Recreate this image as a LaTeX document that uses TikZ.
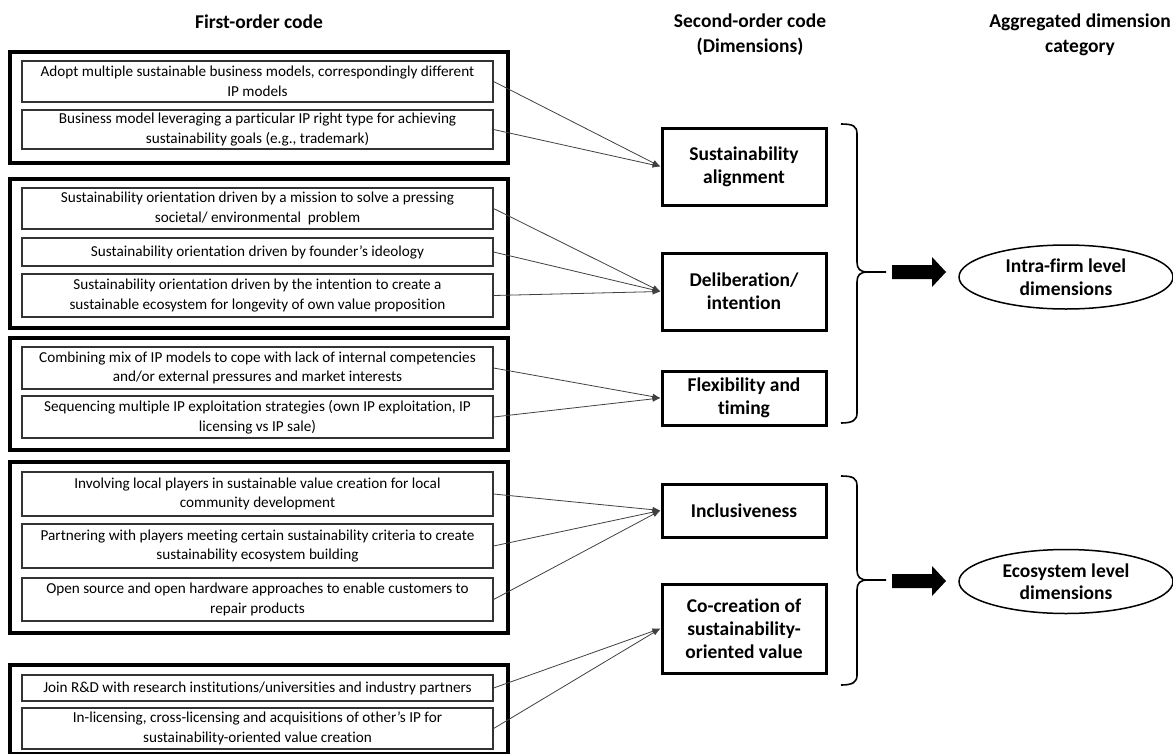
\documentclass[tikz,border=0pt]{standalone}
\usepackage{fontspec}
\setmainfont{Carlito}[Ligatures=NoCommon]
\usetikzlibrary{arrows.meta,shapes.geometric}
\begin{document}
\begin{tikzpicture}[x=1pt,y=-1pt,
  code/.style={draw=black!80, line width=1.2pt, minimum width=471pt, inner sep=0pt,
    align=center, font=\fontsize{15.2}{19.5}\selectfont},
  group/.style={draw=black, line width=3.5pt},
  dim/.style={draw=black, line width=3pt, minimum width=164pt, inner sep=0pt,
    align=center, font=\bfseries\fontsize{19.5}{23}\selectfont},
  head/.style={align=center, font=\bfseries\fontsize{19.5}{25}\selectfont},
  agg/.style={ellipse, draw=black, line width=1.5pt, minimum width=214pt,
    minimum height=64pt, inner sep=0pt, align=center,
    font=\bfseries\fontsize{19.5}{22.5}\selectfont},
  link/.style={draw=black!75, line width=0.8pt, -{Latex[length=8pt,width=6pt]}},
  brace/.style={draw=black, line width=1.6pt},
  blockarrow/.style={fill=black}
]
\useasboundingbox (0,0) rectangle (1173,753);

% column headings
\node[head] (h1) at (259,22) {First-order code};
\node[head] (h2) at (750,35) {Second-order code\\(Dimensions)};
\node[head] (h3) at (1080,35) {Aggregated dimension\\category};

% grouping frames around first-order codes
\draw[group] (10,52) rectangle (508,163);
\draw[group] (10,179) rectangle (508,328);
\draw[group] (10,338) rectangle (508,450);
\draw[group] (10,462) rectangle (508,633);
\draw[group] (10,665) rectangle (508,754);

% first-order codes
\node[code, minimum height=41pt] (a1) at (257.5,81.5)
  {Adopt multiple sustainable business models, correspondingly different\\IP models};
\node[code, minimum height=39pt] (a2) at (257.5,129.5)
  {Business model leveraging a particular IP right type for achieving\\sustainability goals (e.g., trademark)};
\node[code, minimum height=41pt] (b1) at (257.5,208.5)
  {Sustainability orientation driven by a mission to solve a pressing\\societal/ environmental~ problem};
\node[code, minimum height=28pt] (b2) at (257.5,252)
  {Sustainability orientation driven by founder’s ideology};
\node[code, minimum height=43pt] (b3) at (257.5,295.5)
  {Sustainability orientation driven by the intention to create a\\sustainable ecosystem for longevity of own value proposition};
\node[code, minimum height=42pt] (c1) at (257.5,368)
  {Combining mix of IP models to cope with lack of internal competencies\\and/or external pressures and market interests};
\node[code, minimum height=42pt] (c2) at (257.5,417)
  {Sequencing multiple IP exploitation strategies (own IP exploitation, IP\\licensing vs IP sale)};
\node[code, minimum height=44pt] (d1) at (257.5,494)
  {Involving local players in sustainable value creation for local\\community development};
\node[code, minimum height=44pt] (d2) at (257.5,546)
  {Partnering with players meeting certain sustainability criteria to create\\sustainability ecosystem building};
\node[code, minimum height=43pt] (d3) at (257.5,599.5)
  {Open source and open hardware approaches to enable customers to\\repair products};
\node[code, minimum height=26pt] (e1) at (257.5,688)
  {Join R\&D with research institutions/universities and industry partners};
\node[code, minimum height=41pt] (e2) at (257.5,728.5)
  {In-licensing, cross-licensing and acquisitions of other’s IP for\\sustainability-oriented value creation};

% second-order codes
\node[dim, minimum height=77pt] (sa) at (744,166.5) {Sustainability\\alignment};
\node[dim, minimum height=77pt] (di) at (744,291.5) {Deliberation/\\intention};
\node[dim, minimum height=54pt] (ft) at (744,398) {Flexibility and\\timing};
\node[dim, minimum height=53pt] (inc) at (744,510.5) {Inclusiveness};
\node[dim, minimum height=89pt] (co) at (744,628.5) {Co-creation of\\sustainability-\\oriented value};

% links from first-order to second-order codes
\draw[link] (a1.east) -- (sa.west);
\draw[link] (a2.east) -- (sa.west);
\draw[link] (b1.east) -- (di.west);
\draw[link] (b2.east) -- (di.west);
\draw[link] (b3.east) -- (di.west);
\draw[link] (c1.east) -- (ft.west);
\draw[link] (c2.east) -- (ft.west);
\draw[link] (d1.east) -- (inc.west);
\draw[link] (d2.east) -- (inc.west);
\draw[link] (d3.east) -- (inc.west);
\draw[link] (e1.east) -- (co.west);
\draw[link] (e2.east) -- (co.west);

% braces grouping the dimensions
\coordinate (tip1) at (886,272);
\coordinate (tip2) at (886,580);
\draw[brace] (841,124) .. controls (853,124) and (857,126) .. (857,134) -- (857,262)
  .. controls (857,269) and (860,272) .. (868,272) -- (tip1);
\draw[brace] (868,272) .. controls (860,272) and (857,275) .. (857,282) -- (857,413)
  .. controls (857,420) and (853,423) .. (841,423);
\draw[brace] (841,476) .. controls (853,476) and (857,478) .. (857,486) -- (857,570)
  .. controls (857,577) and (860,580) .. (868,580) -- (tip2);
\draw[brace] (868,580) .. controls (860,580) and (857,583) .. (857,590) -- (857,675)
  .. controls (857,682) and (853,685) .. (841,685);

% aggregated dimensions
\node[agg] (intra) at (1066,277) {Intra-firm level\\dimensions};
\node[agg] (eco) at (1066,581.5) {Ecosystem level\\dimensions};

% block arrows
\begin{scope}[shift={(892,272)}]
  \fill[blockarrow] (0,-7) -- (40,-7) -- (40,-15) -- (54,0) -- (40,15) -- (40,7) -- (0,7) -- cycle;
\end{scope}
\begin{scope}[shift={(892,581)}]
  \fill[blockarrow] (0,-7) -- (40,-7) -- (40,-15) -- (54,0) -- (40,15) -- (40,7) -- (0,7) -- cycle;
\end{scope}
\end{tikzpicture}
\end{document}
